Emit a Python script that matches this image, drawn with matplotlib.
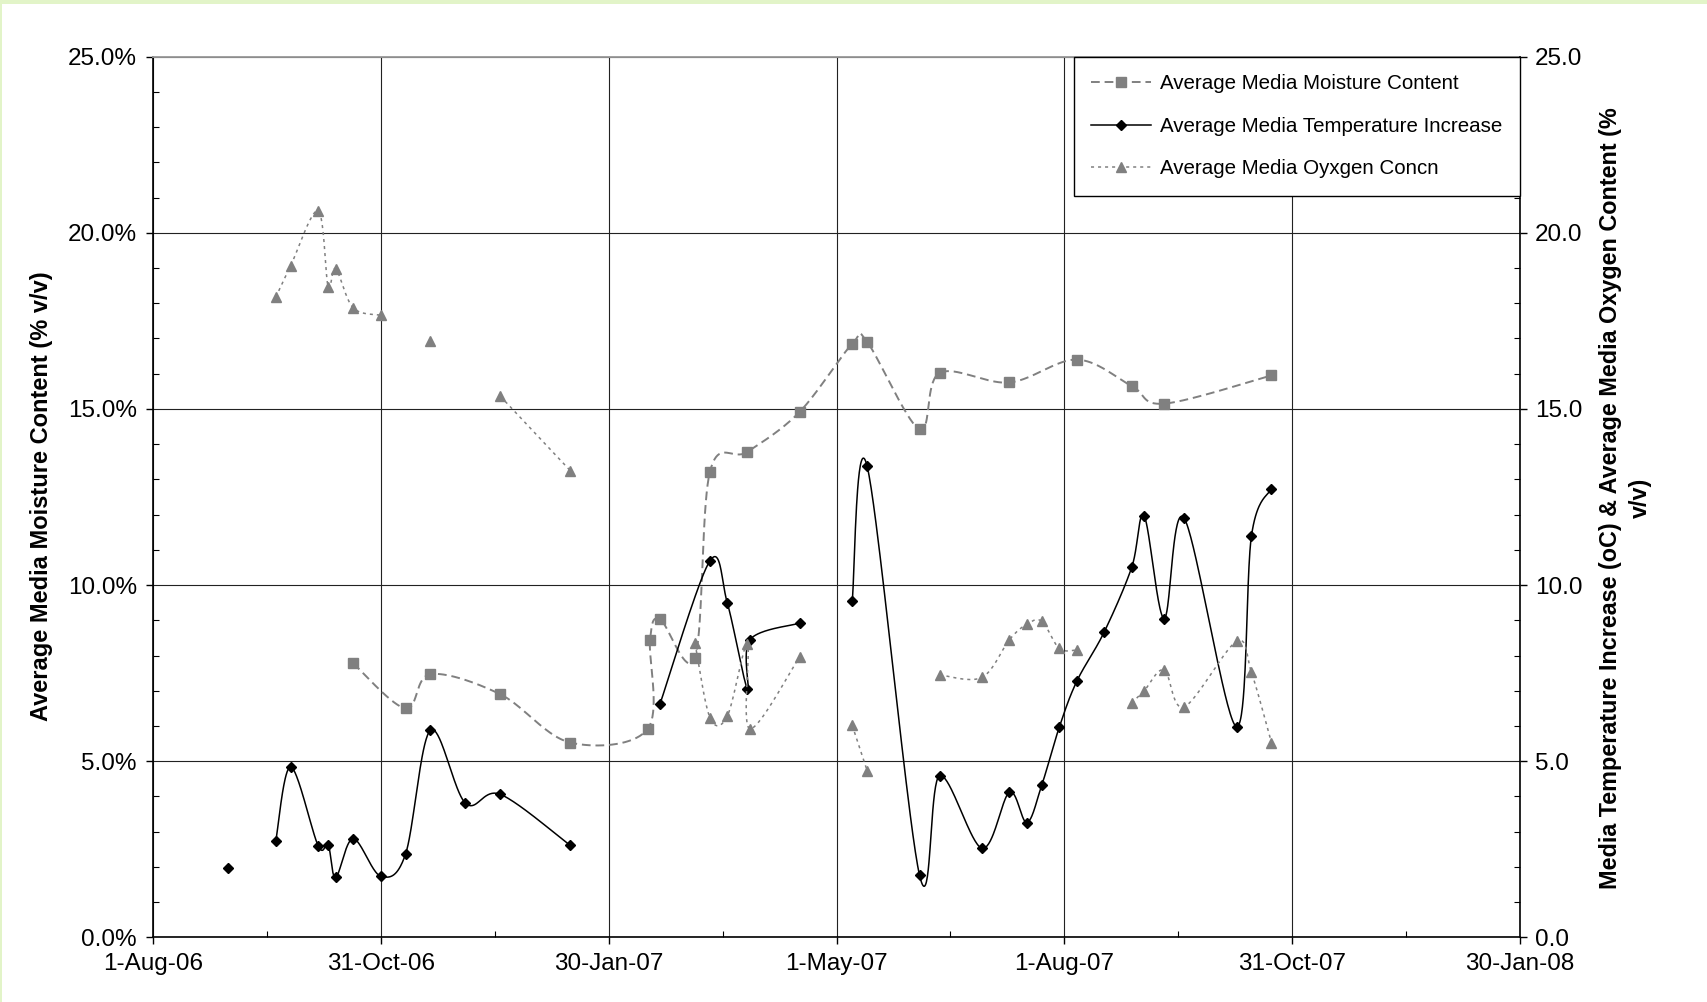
import numpy as np
import matplotlib
matplotlib.use('Agg')
import matplotlib.pyplot as plt
import matplotlib.dates as mdates
from matplotlib.lines import Line2D
from matplotlib.patches import Rectangle
from matplotlib.ticker import FixedLocator, FuncFormatter, MultipleLocator

plt.rcParams['font.family'] = ['Liberation Sans', 'DejaVu Sans']

# x axis: Excel style, start 1-Aug-06, major unit 91.25 days
x_start = '2006-08-01'
x_step = 91.25
x_tick_labels = ['1-Aug-06', '31-Oct-06', '30-Jan-07', '1-May-07',
                 '1-Aug-07', '31-Oct-07', '30-Jan-08']

# Average Media Moisture Content (% v/v)
moist_dates = ['2006-10-20', '2006-11-10', '2006-11-20', '2006-12-18', '2007-01-15',
               '2007-02-15', '2007-02-16', '2007-02-20', '2007-03-06', '2007-03-12',
               '2007-03-27', '2007-04-17', '2007-05-08', '2007-05-14', '2007-06-04',
               '2007-06-12', '2007-07-10', '2007-08-06', '2007-08-28', '2007-09-10',
               '2007-10-23']
moist_vals = [7.78, 6.50, 7.47, 6.90, 5.53,
              5.91, 8.45, 9.03, 7.94, 13.22,
              13.78, 14.92, 16.85, 16.90, 14.42,
              16.02, 15.75, 16.40, 15.65, 15.15,
              15.95]
moist_seg = [0] * 21

# Average Media Temperature Increase (oC)
temp_dates = ['2006-08-31',
              '2006-09-19', '2006-09-25', '2006-10-06', '2006-10-10', '2006-10-13',
              '2006-10-20', '2006-10-31', '2006-11-10', '2006-11-20', '2006-12-04',
              '2006-12-18', '2007-01-15',
              '2007-02-20', '2007-03-12', '2007-03-19', '2007-03-27', '2007-03-28',
              '2007-04-17',
              '2007-05-08', '2007-05-14', '2007-06-04', '2007-06-12', '2007-06-29',
              '2007-07-10', '2007-07-17', '2007-07-23', '2007-07-30', '2007-08-06',
              '2007-08-17', '2007-08-28', '2007-09-02', '2007-09-10', '2007-09-18',
              '2007-10-09', '2007-10-15', '2007-10-23']
temp_vals = [1.96,
             2.73, 4.84, 2.60, 2.63, 1.70,
             2.80, 1.74, 2.36, 5.88, 3.81,
             4.06, 2.61,
             6.63, 10.69, 9.48, 7.06, 8.45,
             8.92,
             9.54, 13.37, 1.76, 4.59, 2.53,
             4.12, 3.26, 4.33, 5.97, 7.27,
             8.67, 10.50, 11.96, 9.05, 11.90,
             5.98, 11.40, 12.74]
temp_seg = [0] + [1] * 12 + [2] * 6 + [3] * 18

# Average Media Oxygen Concn (% v/v)
oxy_dates = ['2006-09-19', '2006-09-25', '2006-10-06', '2006-10-10', '2006-10-13',
             '2006-10-20', '2006-10-31',
             '2006-11-20',
             '2006-12-18', '2007-01-15',
             '2007-03-06', '2007-03-12', '2007-03-19', '2007-03-27', '2007-03-28',
             '2007-04-17',
             '2007-05-08', '2007-05-14',
             '2007-06-12', '2007-06-29', '2007-07-10', '2007-07-17', '2007-07-23',
             '2007-07-30', '2007-08-06',
             '2007-08-28', '2007-09-02', '2007-09-10', '2007-09-18', '2007-10-09',
             '2007-10-15', '2007-10-23']
oxy_vals = [18.17, 19.07, 20.62, 18.47, 18.98,
            17.87, 17.66,
            16.92,
            15.36, 13.25,
            8.35, 6.24, 6.29, 8.33, 5.92,
            7.97,
            6.02, 4.73,
            7.45, 7.38, 8.45, 8.89, 8.97,
            8.20, 8.16,
            6.65, 7.00, 7.59, 6.54, 8.40,
            7.52, 5.53]
oxy_seg = [0] * 7 + [1] + [2] * 2 + [3] * 6 + [4] * 2 + [5] * 7 + [6] * 7


def to_num(ds):
    return mdates.date2num(np.array(ds, dtype='datetime64[D]'))


def smooth(x, y, n=40):
    # Excel-like smoothed line (Catmull-Rom as cubic Bezier)
    if len(x) < 2:
        return x, y
    xs, ys = [], []
    t = np.linspace(0, 1, n)
    for i in range(len(x) - 1):
        i0 = max(i - 1, 0)
        i3 = min(i + 2, len(x) - 1)
        c1x = x[i] + (x[i + 1] - x[i0]) / 6
        c1y = y[i] + (y[i + 1] - y[i0]) / 6
        c2x = x[i + 1] - (x[i3] - x[i]) / 6
        c2y = y[i + 1] - (y[i3] - y[i]) / 6
        b0 = (1 - t) ** 3
        b1 = 3 * (1 - t) ** 2 * t
        b2 = 3 * (1 - t) * t ** 2
        b3 = t ** 3
        xs.append(b0 * x[i] + b1 * c1x + b2 * c2x + b3 * x[i + 1])
        ys.append(b0 * y[i] + b1 * c1y + b2 * c2y + b3 * y[i + 1])
    return np.concatenate(xs), np.concatenate(ys)


def draw(ax, dates, vals, seg, line_kw, marker_kw):
    x = to_num(dates)
    y = np.array(vals, dtype=float)
    seg = np.array(seg)
    for s in np.unique(seg):
        m = seg == s
        sx, sy = smooth(x[m], y[m])
        if m.sum() > 1:
            ax.plot(sx, sy, **line_kw)
    ax.plot(x, y, linestyle='none', **marker_kw)


grey = '#808080'
moist_line = dict(color=grey, lw=1.4, dashes=(4.5, 2.5), solid_capstyle='butt')
moist_mark = dict(marker='s', ms=7.5, color=grey, mec=grey)
temp_line = dict(color='black', lw=1.1)
temp_mark = dict(marker='D', ms=5.6, color='black', mec='black')
oxy_line = dict(color=grey, lw=1.1, dashes=(2, 2.6))
oxy_mark = dict(marker='^', ms=7.5, color=grey, mec=grey)

fig = plt.figure(figsize=(17.07, 10.02), dpi=100, facecolor='#e2f4c8')
fig.patches.append(Rectangle((2 / 1707, 0), 1, 1 - 4 / 1002, transform=fig.transFigure,
                             facecolor='white', edgecolor='none', zorder=-1))

ax = fig.add_axes([0.0899, 0.0645, 0.8004, 0.8790])
ax2 = ax.twinx()

draw(ax, moist_dates, moist_vals, moist_seg, moist_line, moist_mark)
draw(ax2, temp_dates, temp_vals, temp_seg, temp_line, temp_mark)
draw(ax2, oxy_dates, oxy_vals, oxy_seg, oxy_line, oxy_mark)

x0 = to_num([x_start])[0]
x_major = x0 + x_step * np.arange(len(x_tick_labels))
x_minor = x0 + x_step * (np.arange(len(x_tick_labels) - 1) + 0.5)
ax.set_xlim(x_major[0], x_major[-1])
ax.xaxis.set_major_locator(FixedLocator(x_major))
ax.xaxis.set_minor_locator(FixedLocator(x_minor))
ax.set_xticklabels(x_tick_labels)

for a in (ax, ax2):
    a.set_ylim(0, 25)
    a.yaxis.set_major_locator(MultipleLocator(5))
    a.yaxis.set_minor_locator(MultipleLocator(1))
ax.yaxis.set_major_formatter(FuncFormatter(lambda v, p: f'{v:.1f}%'))
ax2.yaxis.set_major_formatter(FuncFormatter(lambda v, p: f'{v:.1f}'))

ax.grid(which='major', color='#222222', lw=0.8)
ax.set_axisbelow(True)

ax.tick_params(which='major', direction='out', length=5, width=1, labelsize=17.5, pad=6)
ax.tick_params(axis='y', which='major', pad=7)
ax.tick_params(which='minor', direction='in', length=4.3, width=0.8)
ax2.tick_params(which='major', direction='out', length=5, width=1, labelsize=17.5, pad=6)
ax2.tick_params(which='minor', direction='in', length=4.3, width=0.8)

for s in ('left', 'bottom'):
    ax.spines[s].set_linewidth(1.2)
ax.spines['top'].set_color('#999999')
ax.spines['top'].set_linewidth(1.3)
ax.spines['right'].set_visible(False)
for s in ('left', 'top', 'bottom'):
    ax2.spines[s].set_visible(False)
ax2.spines['right'].set_linewidth(1.2)

fig.text(0.0245, 0.5045, 'Average Media Moisture Content (% v/v)', rotation=90,
         ha='center', va='center', fontsize=17, fontweight='bold')
fig.text(0.9523, 0.503,
         'Media Temperature Increase (oC) & Average Media Oxygen Content (%\nv/v)',
         rotation=90, ha='center', va='center', multialignment='center',
         fontsize=16.8, fontweight='bold', linespacing=1.35)

handles = [Line2D([], [], **moist_line, **{k: v for k, v in moist_mark.items() if k != 'color'}),
           Line2D([], [], **temp_line, **{k: v for k, v in temp_mark.items() if k != 'color'}),
           Line2D([], [], **oxy_line, **{k: v for k, v in oxy_mark.items() if k != 'color'})]
for h, c in zip(handles, [grey, 'black', grey]):
    h.set_markerfacecolor(c)
labels = ['Average Media Moisture Content', 'Average Media Temperature Increase',
          'Average Media Oyxgen Concn']
leg = ax2.legend(handles, labels, loc='upper right', bbox_to_anchor=(1, 1),
                 borderaxespad=0, fontsize=14.8, frameon=True, fancybox=False,
                 edgecolor='black', framealpha=1, handlelength=2.9, handletextpad=0.45,
                 labelspacing=1.15, borderpad=0.85)
leg.get_frame().set_linewidth(1.0)

fig.savefig('out.png', dpi=100)
